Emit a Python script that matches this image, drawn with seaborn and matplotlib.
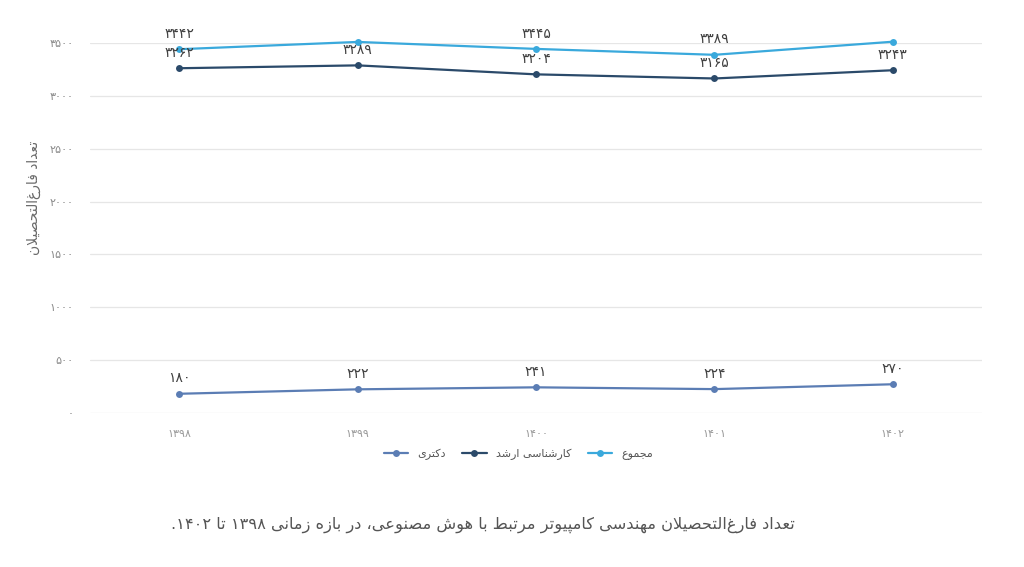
import re
import seaborn as sns
import matplotlib
matplotlib.use('Agg')
import matplotlib.pyplot as plt
import pandas as pd

# data
years = [1398, 1399, 1400, 1401, 1402]
phd = [180, 222, 241, 224, 270]
msc = [3262, 3289, 3204, 3165, 3243]
total = [3442, 3511, 3445, 3389, 3513]
y_ticks = [0, 500, 1000, 1500, 2000, 2500, 3000, 3500]

name_phd = 'دکتری'
name_msc = 'کارشناسی ارشد'
name_total = 'مجموع'
y_title = 'تعداد فارغ\u200cالتحصیلان'
caption = 'تعداد فارغ\u200cالتحصیلان مهندسی کامپیوتر مرتبط با هوش مصنوعی، در بازه زمانی ۱۳۹۸ تا ۱۴۰۲.'

# --- tiny persian shaper (matplotlib has no complex text layout) ---
FORMS = {
    'ا': ('\uFE8D', '\uFE8E'), 'د': ('\uFEA9', '\uFEAA'), 'ر': ('\uFEAD', '\uFEAE'),
    'ز': ('\uFEAF', '\uFEB0'), 'و': ('\uFEED', '\uFEEE'),
    'ب': ('\uFE8F', '\uFE90', '\uFE91', '\uFE92'), 'ت': ('\uFE95', '\uFE96', '\uFE97', '\uFE98'),
    'ج': ('\uFE9D', '\uFE9E', '\uFE9F', '\uFEA0'), 'ح': ('\uFEA1', '\uFEA2', '\uFEA3', '\uFEA4'),
    'س': ('\uFEB1', '\uFEB2', '\uFEB3', '\uFEB4'), 'ش': ('\uFEB5', '\uFEB6', '\uFEB7', '\uFEB8'),
    'ص': ('\uFEB9', '\uFEBA', '\uFEBB', '\uFEBC'), 'ط': ('\uFEC1', '\uFEC2', '\uFEC3', '\uFEC4'),
    'ع': ('\uFEC9', '\uFECA', '\uFECB', '\uFECC'), 'غ': ('\uFECD', '\uFECE', '\uFECF', '\uFED0'),
    'ف': ('\uFED1', '\uFED2', '\uFED3', '\uFED4'), 'ل': ('\uFEDD', '\uFEDE', '\uFEDF', '\uFEE0'),
    'م': ('\uFEE1', '\uFEE2', '\uFEE3', '\uFEE4'), 'ن': ('\uFEE5', '\uFEE6', '\uFEE7', '\uFEE8'),
    'ه': ('\uFEE9', '\uFEEA', '\uFEEB', '\uFEEC'), 'ک': ('\uFB8E', '\uFB8F', '\uFB90', '\uFB91'),
    'ی': ('\uFBFC', '\uFBFD', '\uFBFE', '\uFBFF'), 'پ': ('\uFB56', '\uFB57', '\uFB58', '\uFB59'),
}


def shape(text):
    out = []
    i = 0
    n = len(text)
    while i < n:
        c = text[i]
        if c not in FORMS:
            out.append(c)
            i += 1
            continue
        prev = text[i - 1] if i > 0 else ''
        joins_prev = prev in FORMS and len(FORMS[prev]) == 4
        if c == 'ل' and i + 1 < n and text[i + 1] == 'ا':
            out.append('\uFEFC' if joins_prev else '\uFEFB')
            i += 2
            continue
        nxt = text[i + 1] if i + 1 < n else ''
        joins_next = len(FORMS[c]) == 4 and nxt in FORMS
        f = FORMS[c]
        if joins_prev and joins_next:
            out.append(f[3])
        elif joins_prev:
            out.append(f[1])
        elif joins_next:
            out.append(f[2])
        else:
            out.append(f[0])
        i += 1
    return ''.join(out)


def rtl(text):
    s = shape(text).replace('\u200c', '')[::-1]
    return re.sub(r'[۰-۹0-9]+', lambda m: m.group(0)[::-1], s)


def fa(num):
    return str(num).translate(str.maketrans('0123456789', '۰۱۲۳۴۵۶۷۸۹'))


df = pd.DataFrame({
    'year': years * 3,
    'value': phd + msc + total,
    'series': [rtl(name_phd)] * 5 + [rtl(name_msc)] * 5 + [rtl(name_total)] * 5,
})
order = [rtl(name_phd), rtl(name_msc), rtl(name_total)]
colors = ['#5b7db4', '#2b4a6a', '#3aa9dc']

sns.set_theme(style='whitegrid')
plt.rcParams['font.family'] = ['DejaVu Sans']

fig = plt.figure(figsize=(10.24, 5.67), dpi=100)
ax = fig.add_axes([0.088, 0.272, 0.871, 0.652])

sns.lineplot(data=df, x='year', y='value', hue='series', hue_order=order,
             palette=colors, marker='o', markersize=5, markeredgewidth=0,
             linewidth=1.6, ax=ax)
for line in ax.lines:
    line.set_clip_on(False)

for vals in [phd, msc, total]:
    for x, v in zip(years, vals):
        ax.annotate(fa(v), (x, v), xytext=(0, 6), textcoords='offset points',
                    ha='center', va='bottom', fontsize=10, color='#404040')

ax.set_xlim(years[0] - 0.5, years[-1] + 0.5)
ax.set_ylim(0, 3500)
ax.set_xticks(years)
ax.set_xticklabels([fa(y) for y in years], fontsize=8, color='#9a9a9a')
ax.set_yticks(y_ticks)
ax.set_yticklabels([fa(t) for t in y_ticks], fontsize=8, color='#8a8a8a')
ax.tick_params(axis='both', length=0, pad=12)
ax.grid(axis='x', visible=False)
ax.grid(axis='y', color='#e6e6e6', linewidth=0.9)
for s in ax.spines.values():
    s.set_visible(False)
ax.set_xlabel('')
ax.set_ylabel(rtl(y_title), fontsize=10, color='#6a6a6a')
ax.yaxis.set_label_coords(-0.055, 0.58)

handles, labels = ax.get_legend_handles_labels()
ax.legend(handles, labels, loc='upper center', bbox_to_anchor=(0.48, -0.07),
          ncol=3, frameon=False, fontsize=8, handlelength=2.2, columnspacing=1.5,
          labelcolor='#555555')

fig.text(0.472, 0.074, rtl(caption), ha='center', va='center', fontsize=11.7, color='#555555')

fig.savefig('out.png', dpi=100)
